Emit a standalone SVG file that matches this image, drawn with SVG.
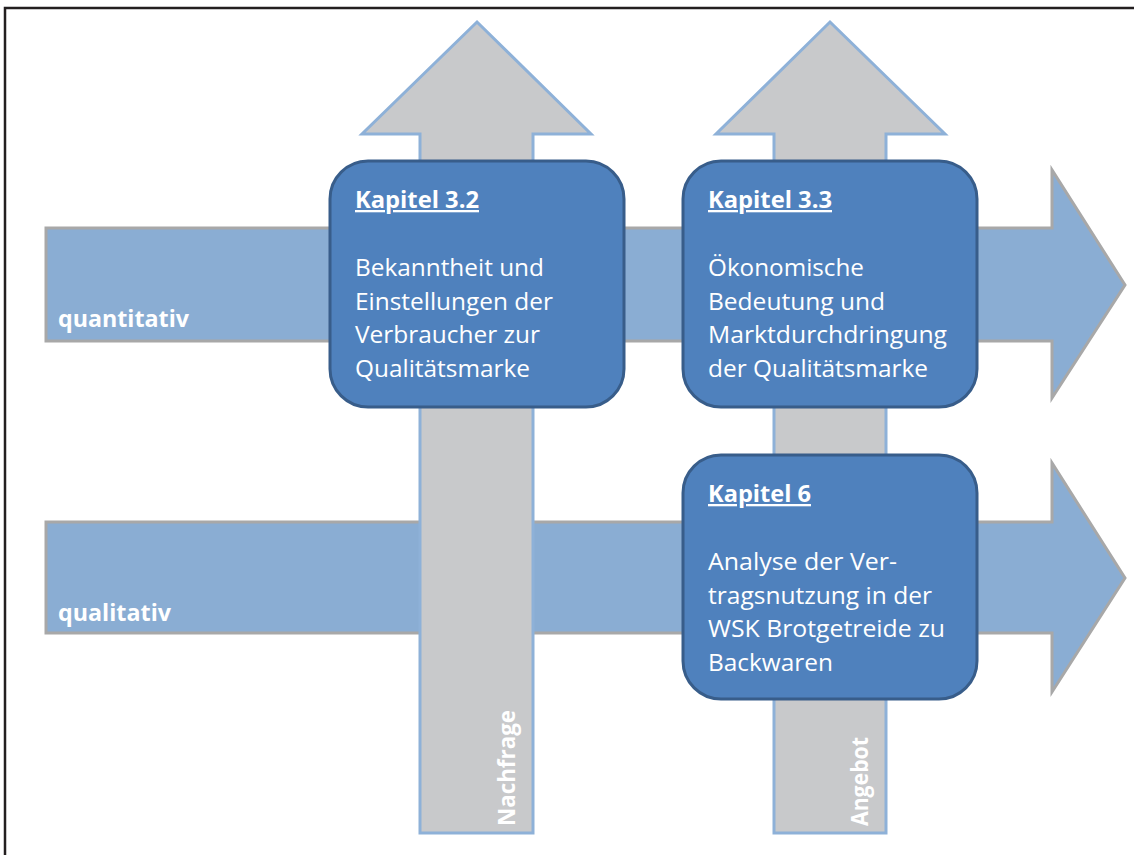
<svg xmlns="http://www.w3.org/2000/svg" width="1134" height="855" viewBox="0 0 1134 855">
<style>
.harrow{fill:#8AADD3;stroke:#A8A8A8;stroke-width:3;stroke-linejoin:miter}
.varrow{fill:#C8C9CB;stroke:#8EB1D8;stroke-width:3;stroke-linejoin:miter}
.box{fill:#4F81BD;stroke:#385D8A;stroke-width:3}
.t{font-family:"Open Sans","Liberation Sans",sans-serif;fill:#FFFFFF;font-size:23px}
.b{font-weight:bold}
.u{text-decoration:underline}
</style>
<rect x="0" y="0" width="1134" height="855" fill="#FFFFFF"/>
<path d="M5,855 V8 H1134" fill="none" stroke="#231F20" stroke-width="2.5"/>
<g id="connectors">
  <g id="arrow-quantitativ">
    <polygon class="harrow" points="46,228 1052,228 1052,170 1125,285 1052,398 1052,341 46,341"/>
    <text class="t b" x="58" y="327" textLength="131" lengthAdjust="spacingAndGlyphs">quantitativ</text>
  </g>
  <g id="arrow-qualitativ">
    <polygon class="harrow" points="46,522 1052,522 1052,463 1125,578 1052,692 1052,633 46,633"/>
    <text class="t b" x="58" y="621" textLength="113" lengthAdjust="spacingAndGlyphs">qualitativ</text>
  </g>
  <g id="arrow-nachfrage">
    <polygon class="varrow" points="477,22 591,134 533,134 533,833 420,833 420,134 362,134"/>
    <text class="t b" transform="translate(515,826) rotate(-90)" textLength="116" lengthAdjust="spacingAndGlyphs">Nachfrage</text>
  </g>
  <g id="arrow-angebot">
    <polygon class="varrow" points="830,22 945,134 886,134 886,833 774,833 774,134 716,134"/>
    <text class="t b" transform="translate(868,826) rotate(-90)" textLength="89" lengthAdjust="spacingAndGlyphs">Angebot</text>
  </g>
</g>
<g id="kapitel-3-2">
  <rect class="box" x="330" y="161" width="294" height="246" rx="38" ry="38"/>
  <text class="t b u" x="355" y="208" textLength="124" lengthAdjust="spacingAndGlyphs">Kapitel 3.2</text>
  <text class="t" x="355" y="276" textLength="189" lengthAdjust="spacingAndGlyphs">Bekanntheit und</text>
  <text class="t" x="355" y="310" textLength="198" lengthAdjust="spacingAndGlyphs">Einstellungen der</text>
  <text class="t" x="355" y="343" textLength="185" lengthAdjust="spacingAndGlyphs">Verbraucher zur</text>
  <text class="t" x="355" y="377" textLength="175" lengthAdjust="spacingAndGlyphs">Qualitätsmarke</text>
</g>
<g id="kapitel-3-3">
  <rect class="box" x="683" y="161" width="294" height="246" rx="38" ry="38"/>
  <text class="t b u" x="708" y="208" textLength="124" lengthAdjust="spacingAndGlyphs">Kapitel 3.3</text>
  <text class="t" x="708" y="276" textLength="156" lengthAdjust="spacingAndGlyphs">Ökonomische</text>
  <text class="t" x="708" y="310" textLength="177" lengthAdjust="spacingAndGlyphs">Bedeutung und</text>
  <text class="t" x="708" y="343" textLength="239" lengthAdjust="spacingAndGlyphs">Marktdurchdringung</text>
  <text class="t" x="708" y="377" textLength="220" lengthAdjust="spacingAndGlyphs">der Qualitätsmarke</text>
</g>
<g id="kapitel-6">
  <rect class="box" x="683" y="455" width="294" height="244" rx="38" ry="38"/>
  <text class="t b u" x="708" y="502" textLength="103" lengthAdjust="spacingAndGlyphs">Kapitel 6</text>
  <text class="t" x="708" y="570" textLength="189" lengthAdjust="spacingAndGlyphs">Analyse der Ver-</text>
  <text class="t" x="708" y="604" textLength="224" lengthAdjust="spacingAndGlyphs">tragsnutzung in der</text>
  <text class="t" x="708" y="637" textLength="237" lengthAdjust="spacingAndGlyphs">WSK Brotgetreide zu</text>
  <text class="t" x="708" y="671" textLength="125" lengthAdjust="spacingAndGlyphs">Backwaren</text>
</g>
</svg>
